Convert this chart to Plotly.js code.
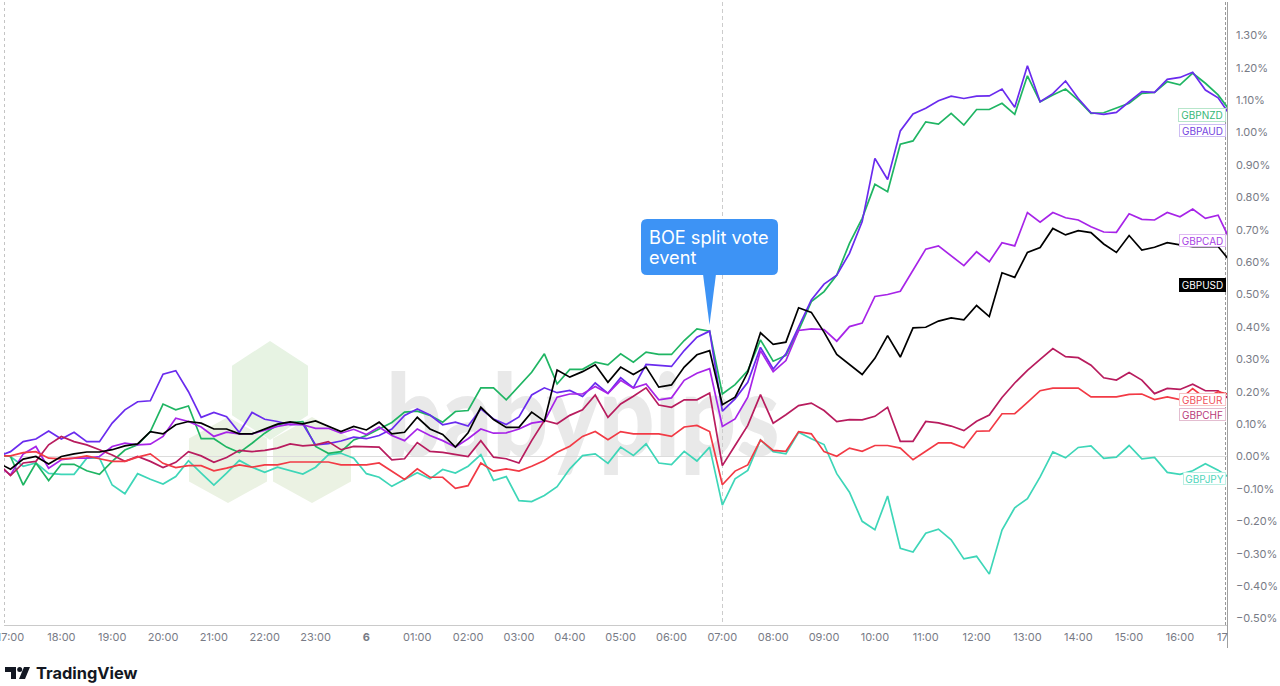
<!DOCTYPE html>
<html>
<head>
<meta charset="utf-8">
<script src="https://cdn.plot.ly/plotly-3.0.1.min.js"></script>
<style>
  body { margin: 0; background: #fff; }
  #wm { position: absolute; left: 386px; top: 352px; font: 900 114px Lato, sans-serif; color: #e9e9e9; line-height: 120px; transform: scaleX(.86); transform-origin: left top; }
  #chart { position: absolute; left: 0; top: 0; width: 1280px; height: 686px; }
</style>
</head>
<body>
<div id="wm">babypips</div>
<div id="chart"></div>
<script>
// % change per 15 min bar, first bar sits just before 17:00
var gbpaud = [0,.015,.046,.054,.079,.054,.075,.046,.046,.103,.144,.169,.172,.254,.265,.2,.121,.136,.123,.074,.136,.115,.108,.098,.1,.036,.04,.048,.06,
  .055,.065,.085,.127,.147,.128,.098,.106,.094,.147,.116,.099,.122,.19,.212,.197,.204,.185,.227,.195,.243,.212,.284,.281,.278,.327,.368,.387,.14,
  .178,.229,.337,.27,.317,.399,.483,.532,.56,.627,.725,.92,.855,1.005,1.057,1.075,1.098,1.112,1.105,1.112,
  1.113,1.134,1.078,1.206,1.095,1.12,1.159,1.105,1.061,1.056,1.062,1.095,1.126,1.124,1.164,1.17,1.186,1.131,1.107,1.05];
var gbpnzd = [.005,0,-.088,-.02,-.074,-.024,-.024,-.044,-.055,-.015,.02,.036,.077,.162,.144,.156,.055,.055,.029,.012,.041,.072,.098,.105,.108,.031,.01,.015,.051,
  .065,.085,.105,.137,.14,.127,.106,.139,.142,.212,.212,.175,.216,.26,.317,.224,.269,.269,.291,.283,.317,.291,.322,.315,.315,.358,.394,.387,.193,
  .222,.265,.36,.294,.312,.389,.478,.509,.56,.658,.735,.84,.817,.964,.974,1.033,1.026,1.059,1.023,1.071,
  1.071,1.09,1.056,1.175,1.095,1.116,1.134,1.1,1.059,1.061,1.075,1.09,1.121,1.124,1.157,1.147,1.183,1.152,1.116,1.064];
var gbpusd = [-.019,-.039,-.008,0,-.023,0,.008,.014,.014,.021,.033,.039,.077,.07,.098,.108,.103,.085,.085,.07,.07,.085,.1,.107,.101,.11,.093,.077,.093,
  .082,.106,.07,.075,.121,.085,.068,.029,.073,.152,.114,.09,.09,.137,.109,.267,.245,.262,.283,.229,.276,.253,.276,.214,.221,.276,.314,.327,.16,
  .183,.26,.382,.346,.353,.459,.445,.384,.315,.284,.253,.303,.373,.307,.397,.399,.418,.428,.422,.466,
  .432,.567,.553,.63,.645,.704,.684,.697,.691,.656,.63,.682,.637,.646,.66,.653,.648,.648,.648,.6];
var gbpcad = [-.026,-.057,.008,.031,-.036,-.01,-.005,-.005,0,.031,.041,.036,.038,.062,.118,.108,.091,.062,.075,.07,.07,.082,.093,.1,.098,.087,.087,.072,.084,
  .068,.091,.065,.049,.085,.065,.049,.029,.055,.085,.072,.073,.085,.103,.109,.183,.193,.193,.216,.195,.235,.211,.224,.175,.181,.235,.257,.271,.093,
  .116,.183,.327,.262,.296,.389,.394,.392,.356,.401,.412,.494,.5,.51,.576,.64,.65,.619,.589,.632,
  .601,.66,.65,.753,.723,.753,.737,.73,.709,.693,.692,.749,.732,.73,.753,.74,.764,.735,.745,.663];
var gbpchf = [-.02,-.059,-.02,-.015,.036,.062,.046,.036,.021,.005,-.015,0,-.015,-.034,-.018,.015,.002,-.018,-.003,.019,.015,.019,.026,.039,.033,.036,.046,.021,.031,
  .029,.029,-.01,-.007,.043,.016,.013,.006,0,.049,-.002,-.007,-.02,.049,.111,.101,.127,.144,.19,.121,.162,.186,.212,.159,.152,.175,.175,.196,-.028,
  .034,.096,.191,.103,.129,.157,.165,.142,.108,.114,.113,.124,.152,.047,.047,.108,.104,.094,.08,.109,
  .128,.182,.227,.266,.3,.333,.308,.305,.282,.243,.236,.259,.236,.194,.21,.207,.223,.203,.203,.174];
var gbpeur = [.002,.002,.012,.015,-.005,-.007,-.005,.002,-.007,-.015,-.015,-.002,.008,-.021,-.034,-.028,-.028,-.044,-.036,-.026,-.033,-.026,-.026,-.017,-.017,-.017,-.017,-.026,-.026,
  -.026,-.02,-.046,-.071,-.038,-.064,-.064,-.098,-.09,-.02,-.045,-.038,-.045,-.03,-.012,.013,.032,.062,.077,.052,.077,.07,.07,.07,.062,.091,.096,.077,-.087,
  -.045,-.026,.051,.019,.016,.077,.07,.015,.001,.026,.016,.034,.034,.026,-.01,.016,.042,.042,.027,.078,
  .079,.132,.132,.167,.203,.211,.211,.211,.184,.184,.184,.192,.193,.176,.184,.176,.21,.179,.2,.19];
var gbpjpy = [.005,0,-.03,-.02,-.052,-.055,-.055,-.005,-.005,-.088,-.115,-.053,-.07,-.085,-.062,-.013,-.051,-.088,-.051,-.012,-.033,-.049,-.033,-.044,-.054,-.033,.005,.01,-.005,
  -.053,-.064,-.092,-.071,-.05,-.069,-.04,-.051,-.03,.006,-.074,-.062,-.136,-.139,-.12,-.093,-.038,.003,.008,-.021,.029,.003,.039,-.02,-.025,.016,-.014,.029,-.15,
  -.069,-.043,.051,.015,.008,.075,.055,.037,-.053,-.11,-.2,-.226,-.122,-.283,-.295,-.237,-.224,-.257,-.316,-.308,
  -.363,-.227,-.158,-.13,-.063,.014,-.004,.028,.033,-.006,-.002,.034,-.007,-.003,-.049,-.055,-.044,-.022,-.042,-.068];

var xTickVals = [0,4,8,12,16,20,24,28,32,36,40,44,48,52,56,60,64,68,72,76,80,84,88,92];
var xTickText = ["17:00","18:00","19:00","20:00","21:00","22:00","23:00","<b>6</b>","01:00","02:00","03:00","04:00","05:00","06:00","07:00","08:00","09:00","10:00","11:00","12:00","13:00","14:00","15:00","16:00"];
var yTickVals = [-.5,-.4,-.3,-.2,-.1,0,.1,.2,.3,.4,.5,.6,.7,.8,.9,1,1.1,1.2,1.3];
var yTickText = ["−0.50%","−0.40%","−0.30%","−0.20%","−0.10%","0.00%","0.10%","0.20%","0.30%","0.40%","0.50%","0.60%","0.70%","0.80%","0.90%","1.00%","1.10%","1.20%","1.30%"];

var colNzd = "#1fb563", colAud = "#6a2bee", colCad = "#a724e8", colUsd = "#000000",
    colChf = "#b81c5e", colEur = "#f23a45", colJpy = "#3ed6b8";

function line(name, y, color) {
  return { name: name, x: y.map(function (v, i) { return i - 1; }), y: y, type: "scatter", mode: "lines",
           line: { color: color, width: 1.7 }, hoverinfo: "skip" };
}
var data = [
  line("GBPJPY", gbpjpy, colJpy),
  line("GBPNZD", gbpnzd, colNzd),
  line("GBPAUD", gbpaud, colAud),
  line("GBPCAD", gbpcad, colCad),
  line("GBPCHF", gbpchf, colChf),
  line("GBPEUR", gbpeur, colEur),
  line("GBPUSD", gbpusd, colUsd)
];

// page pixels to paper coords
var L = 4, R = 1227, T = 2, B = 625;
function px(x) { return (x - L) / (R - L); }
function py(y) { return (B - y) / (B - T); }
function path(pts) {
  return "M" + pts.map(function (p) { return px(p[0]) + "," + py(p[1]); }).join("L") + "Z";
}
function poly(pts, fill, layer) {
  return { type: "path", xref: "paper", yref: "paper", path: path(pts), fillcolor: fill, line: { width: 0 }, layer: layer || "below" };
}
function hex(cx, top, bot, hw, fill) {
  var h = (bot - top) / 4;
  return poly([[cx, top], [cx + hw, top + h], [cx + hw, bot - h], [cx, bot], [cx - hw, bot - h], [cx - hw, top + h]], fill);
}
function vline(x, color, dash, y0, y1) {
  return { type: "line", xref: "paper", yref: "paper", x0: px(x), x1: px(x), y0: py(y0), y1: py(y1),
           line: { color: color, width: 1, dash: dash }, layer: "below" };
}

var shapes = [
  hex(270, 341, 440, 38, "#e7f3e3"),
  hex(228, 417, 503, 39, "#ebf2e3"),
  hex(312, 417, 503, 39, "#ebf2e3"),
  vline(4.5, "#c4c4c4", "3px,3px", 2, 625),
  vline(722.5, "#cccccc", "4px,3px", 2, 625),
  vline(1225.5, "#9a9a9a", "3px,2px", 2, 625),
  vline(1227.5, "#a0a0a0", "solid", 2, 648),
  { type: "line", xref: "paper", yref: "y", x0: 0, x1: 1, y0: 0, y1: 0, line: { color: "#dcdcdc", width: 1 }, layer: "below" },
  // callout
  { type: "path", xref: "paper", yref: "paper", fillcolor: "#3d93f5", line: { width: 0 }, layer: "above",
    path: "M" + px(647) + "," + py(219) + "L" + px(772) + "," + py(219) +
          "Q" + px(778) + "," + py(219) + " " + px(778) + "," + py(225) +
          "L" + px(778) + "," + py(269) + "Q" + px(778) + "," + py(275) + " " + px(772) + "," + py(275) +
          "L" + px(647) + "," + py(275) + "Q" + px(641) + "," + py(275) + " " + px(641) + "," + py(269) +
          "L" + px(641) + "," + py(225) + "Q" + px(641) + "," + py(219) + " " + px(647) + "," + py(219) + "Z" },
  poly([[703, 274], [716, 274], [709.5, 325]], "#3d93f5", "above"),
  // TradingView mark
  poly([[5, 667], [16, 667], [16, 679], [11, 679], [11, 672], [5, 672]], "#131722", "above"),
  { type: "circle", xref: "paper", yref: "paper", x0: px(17.2), x1: px(22.2), y0: py(667), y1: py(672), fillcolor: "#131722", line: { width: 0 } },
  poly([[24, 667], [30, 667], [25, 679], [19, 679]], "#131722", "above")
];

function tag(text, top, bottom, left, color, border, bg) {
  return { xref: "paper", yref: "paper", x: px((left + 1226) / 2), y: py((top + bottom) / 2), xanchor: "center", yanchor: "middle",
           text: text, showarrow: false, width: 1226 - left - 2, height: bottom - top - 2, borderpad: 0, borderwidth: 1,
           bordercolor: border, bgcolor: bg, font: { family: "Inter, sans-serif", size: 10, color: color } };
}
function calloutLine(text, y) {
  return { xref: "paper", yref: "paper", x: px(647), y: py(y), xanchor: "left", yanchor: "middle", align: "left", showarrow: false,
           text: text, font: { family: "Inter, sans-serif", size: 18.2, color: "#ffffff" } };
}
var annotations = [
  tag("GBPNZD", 108, 122, 1178, "#37b878", "#b7e6cb", "#ffffff"),
  tag("GBPAUD", 124, 137, 1179, "#7443e0", "#cdbdf3", "#ffffff"),
  tag("GBPCAD", 234, 247, 1179, "#a83ee4", "#dfb9f3", "#ffffff"),
  tag("GBPUSD", 278, 292, 1179, "#ffffff", "#000000", "#000000"),
  tag("GBPEUR", 393, 406, 1179, "#f0525a", "#f8c3c6", "#ffffff"),
  tag("GBPCHF", 408, 421, 1179, "#b83a78", "#e3bdd0", "#ffffff"),
  tag("GBPJPY", 472, 485, 1183, "#50d6bc", "#bcefe4", "#ffffff"),
  calloutLine("BOE split vote", 237),
  calloutLine("event", 257),
  { xref: "paper", yref: "paper", x: px(1217), y: py(637), xanchor: "left", yanchor: "middle", showarrow: false, xshift: -2,
    text: "17", font: { family: "Inter, sans-serif", size: 11, color: "#787b86" } },
  { xref: "paper", yref: "paper", x: px(36), y: py(673), xanchor: "left", yanchor: "middle", showarrow: false, xshift: -2,
    text: "<b>TradingView</b>", font: { family: "Inter, sans-serif", size: 16.4, color: "#131722" } }
];

var layout = {
  width: 1280, height: 686,
  margin: { l: L, r: 1280 - R, t: T, b: 686 - B, pad: 0 },
  paper_bgcolor: "rgba(0,0,0,0)", plot_bgcolor: "rgba(0,0,0,0)",
  showlegend: false, hovermode: false,
  font: { family: "Inter, sans-serif", size: 11, color: "#787b86" },
  xaxis: { range: [-0.511, 95.7], tickmode: "array", tickvals: xTickVals, ticktext: xTickText, showgrid: false, zeroline: false,
           showline: true, linecolor: "#cacaca", linewidth: 1, ticks: "", ticklabelstandoff: 2, ticklabeloverflow: "allow", tickangle: 0 },
  yaxis: { range: [-0.52, 1.4028], side: "right", tickmode: "array", tickvals: yTickVals, ticktext: yTickText, showgrid: false, zeroline: false,
           showline: false, ticks: "", ticklabelstandoff: 8 },
  shapes: shapes,
  annotations: annotations
};

Plotly.newPlot("chart", data, layout, { displayModeBar: false });
</script>
</body>
</html>
